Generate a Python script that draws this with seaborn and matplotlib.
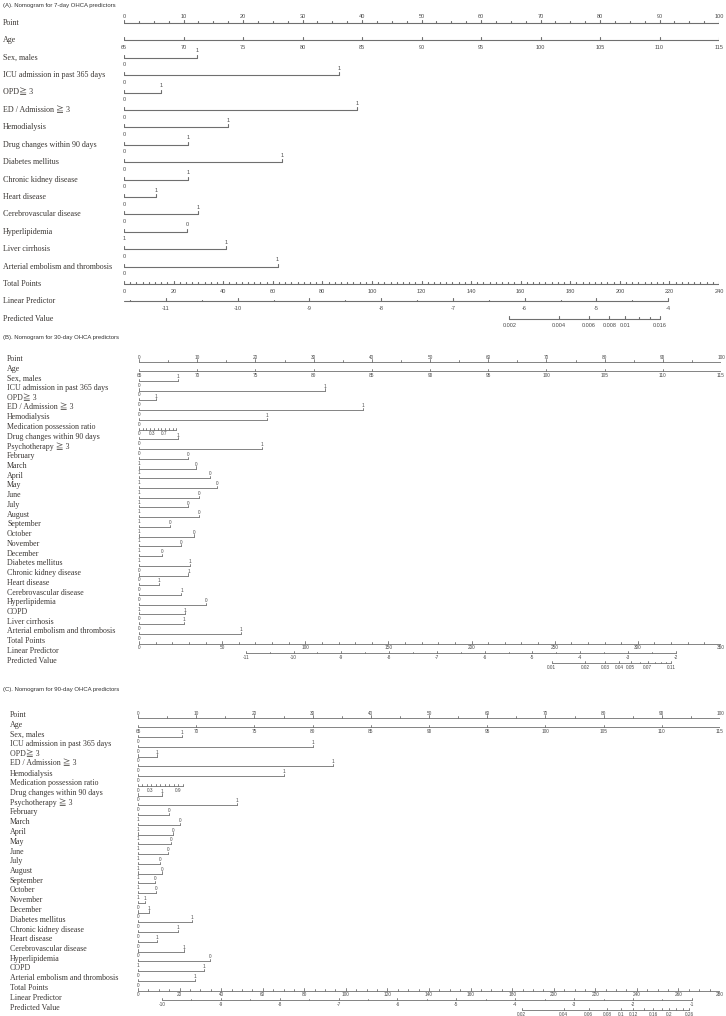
import numpy as np
import pandas as pd
import matplotlib
matplotlib.use("Agg")
import matplotlib.pyplot as plt
import matplotlib.transforms as mtransforms
import seaborn as sns

# ------------------------------------------------------------------
# values (points of the right-hand level)
# ------------------------------------------------------------------
age_ticks = [65, 70, 75, 80, 85, 90, 95, 100, 105, 110, 115]

# (A) 7-day
a_names = ["Sex, males", "ICU admission in past 365 days", "OPD≧ 3", "ED / Admission ≧ 3",
           "Hemodialysis", "Drug changes within 90 days", "Diabetes mellitus",
           "Chronic kidney disease", "Heart disease", "Cerebrovascular disease",
           "Hyperlipidemia", "Liver cirrhosis", "Arterial embolism and thrombosis"]
a_points = [12.3, 36.2, 6.2, 39.2, 17.5, 10.7, 26.5, 10.7, 5.4, 12.4, 10.6, 17.2, 25.8]
a_low = ["0", "0", "0", "0", "0", "0", "0", "0", "0", "0", "1", "0", "0"]
a_high = ["1", "1", "1", "1", "1", "1", "1", "1", "1", "1", "0", "1", "1"]
a_total_max = 240
a_total_labels = [0, 20, 40, 60, 80, 100, 120, 140, 160, 180, 200, 220, 240]
a_lp_ticks = [-11, -10, -9, -8, -7, -6, -5, -4]
a_lp_totals = [16.9, 219.5]          # total points under -11 and -4
a_lp_range = [-11.58, -4]
a_pv_ticks = [0.002, 0.004, 0.006, 0.008, 0.010, 0.012, 0.014, 0.016]
a_pv_labels = ["0.002", "0.004", "0.006", "0.008", "0.01", "", "", "0.016"]

months = ["February", "March", "April", "May", "June", "July", "August",
          "September", "October", "November", "December"]

# (B) 30-day
b_names = (["Sex, males", "ICU admission in past 365 days", "OPD≧ 3", "ED / Admission ≧ 3",
            "Hemodialysis", "Medication possession ratio", "Drug changes within 90 days",
            "Psychotherapy ≧ 3"] + months +
           ["Diabetes mellitus", "Chronic kidney disease", "Heart disease",
            "Cerebrovascular disease", "Hyperlipidemia", "COPD", "Liver cirrhosis",
            "Arterial embolism and thrombosis"])
b_points = ([6.7, 32.0, 2.9, 38.5, 22.0, None, 6.7, 21.1] +
            [8.5, 9.8, 12.2, 13.4, 10.3, 8.5, 10.3, 5.3, 9.5, 7.2, 3.9] +
            [8.7, 8.5, 3.5, 7.3, 11.5, 7.9, 7.7, 17.5])
b_low = ["0"] * 8 + ["1"] * 11 + ["0", "0", "0", "0", "1", "0", "0", "0"]
b_high = ["1"] * 8 + ["0"] * 11 + ["1", "1", "1", "1", "0", "1", "1", "1"]
b_mpr_labels = ["0", "0.3", "0.7"]
b_mpr_label_pts = [0, 2.2, 4.3]
b_mpr_end = 6.4
b_total_max = 350
b_total_labels = [0, 50, 100, 150, 200, 250, 300, 350]
b_lp_ticks = [-11, -10, -9, -8, -7, -6, -5, -4, -3, -2]
b_lp_totals = [64.2, 322.8]
b_lp_range = [-11, -2]
b_pv_ticks = [0.01, 0.02, 0.03, 0.04, 0.05, 0.06, 0.07, 0.08, 0.09, 0.10, 0.11]
b_pv_labels = ["0.01", "0.02", "0.03", "0.04", "0.05", "", "0.07", "", "", "", "0.11"]

# (C) 90-day
c_names = (["Sex, males", "ICU admission in past 365 days", "OPD≧ 3", "ED / Admission ≧ 3",
            "Hemodialysis", "Medication possession ratio", "Drug changes within 90 days",
            "Psychotherapy ≧ 3"] + months +
           ["Diabetes mellitus", "Chronic kidney disease", "Heart disease",
            "Cerebrovascular disease", "Hyperlipidemia", "COPD",
            "Arterial embolism and thrombosis"])
c_points = ([7.6, 30.1, 3.2, 33.5, 25.0, None, 4.1, 17.0] +
            [5.3, 7.2, 6.0, 5.7, 5.1, 3.8, 4.1, 2.9, 3.1, 1.2, 1.9] +
            [9.3, 6.8, 3.2, 7.9, 12.4, 11.3, 9.8])
c_low = ["0"] * 8 + ["1"] * 9 + ["0", "0"] + ["0", "0", "0", "0", "1", "0", "0"]
c_high = ["1"] * 8 + ["0"] * 9 + ["1", "1"] + ["1", "1", "1", "1", "0", "1", "1"]
c_mpr_labels = ["0", "0.3", "0.9"]
c_mpr_label_pts = [0, 2.1, 6.9]
c_mpr_end = 7.7
c_total_max = 280
c_total_labels = [0, 20, 40, 60, 80, 100, 120, 140, 160, 180, 200, 220, 240, 260, 280]
c_lp_ticks = [-10, -9, -8, -7, -6, -5, -4, -3, -2, -1]
c_lp_totals = [11.5, 266.5]
c_lp_range = [-10, -1]
c_pv_ticks = [0.02, 0.04, 0.06, 0.08, 0.10, 0.12, 0.14, 0.16, 0.18, 0.20, 0.22, 0.24, 0.26]
c_pv_labels = ["0.02", "0.04", "0.06", "0.08", "0.1", "0.12", "", "0.16", "", "0.2", "", "", "0.26"]

# ------------------------------------------------------------------
sns.set_theme(style="white")
plt.rcParams["font.family"] = ["Liberation Serif", "Noto Sans CJK TC", "DejaVu Sans"]

W, H = 726, 1016
fig = plt.figure(figsize=(W / 100, H / 100), dpi=100)

SERIF = ["Liberation Serif", "Noto Sans CJK TC", "DejaVu Sans"]
SANS = ["Liberation Sans", "DejaVu Sans"]
NARROW = ["Liberation Sans Narrow", "Liberation Sans", "DejaVu Sans"]
ROW_C = "#3a3633"
TICK_C = "#4a4a4a"
LINE_C = "#6f6f6f"

panels = [
    dict(title="(A). Nomogram for 7-day OHCA predictors", title_y=5, label_x=3,
         x0=124, x1=719, row0=23, row_px=17.4, top=10, bottom=334,
         line_dy=0, lab_dy=7, tick=3, minor=1.6, fs_row=5.8, fs_tick=4.0, tfont=SANS, lw=0.8,
         point_minor=2.5, total_minor=2.5,
         names=a_names, points=a_points, low=a_low, high=a_high, mpr=None,
         total_max=a_total_max, total_labels=a_total_labels,
         lp_ticks=a_lp_ticks, lp_totals=a_lp_totals, lp_range=a_lp_range,
         pv_ticks=a_pv_ticks, pv_labels=a_pv_labels),
    dict(title="(B). Nomogram for 30-day OHCA predictors", title_y=337, label_x=7,
         x0=139, x1=721, row0=359, row_px=9.73, top=347, bottom=672,
         line_dy=2.5, lab_dy=4.3, tick=2.2, minor=1.2, fs_row=5.7, fs_tick=3.4, tfont=NARROW, lw=0.6,
         point_minor=5, total_minor=10,
         names=b_names, points=b_points, low=b_low, high=b_high,
         mpr=(b_mpr_labels, b_mpr_label_pts, b_mpr_end),
         total_max=b_total_max, total_labels=b_total_labels,
         lp_ticks=b_lp_ticks, lp_totals=b_lp_totals, lp_range=b_lp_range,
         pv_ticks=b_pv_ticks, pv_labels=b_pv_labels),
    dict(title="(C). Nomogram for 90-day OHCA predictors", title_y=690, label_x=10,
         x0=138, x1=720, row0=715, row_px=9.75, top=703, bottom=1015,
         line_dy=2.5, lab_dy=4.3, tick=2.2, minor=1.2, fs_row=5.7, fs_tick=3.4, tfont=NARROW, lw=0.6,
         point_minor=5, total_minor=5,
         names=c_names, points=c_points, low=c_low, high=c_high,
         mpr=(c_mpr_labels, c_mpr_label_pts, c_mpr_end),
         total_max=c_total_max, total_labels=c_total_labels,
         lp_ticks=c_lp_ticks, lp_totals=c_lp_totals, lp_range=c_lp_range,
         pv_ticks=c_pv_ticks, pv_labels=c_pv_labels),
]


def draw_panel(p):
    ax = fig.add_axes([p["x0"] / W, 1 - p["bottom"] / H,
                       (p["x1"] - p["x0"]) / W, (p["bottom"] - p["top"]) / H])
    rp = p["row_px"]

    def d(px):
        return px / rp

    segs = []

    def seg(xa, ya, xb, yb):
        n = len(segs) // 2
        segs.append({"x": xa, "y": ya, "seg": n})
        segs.append({"x": xb, "y": yb, "seg": n})

    def tlab(x, y, s):
        ax.text(x, y, s, ha="center", va="center", fontsize=p["fs_tick"],
                family=p["tfont"], color=TICK_C)

    tmax = p["total_max"]

    def lp_to_pts(lp):
        (t1, t2), l1, l2 = p["lp_totals"], p["lp_ticks"][0], p["lp_ticks"][-1]
        return (t1 + (lp - l1) * (t2 - t1) / (l2 - l1)) / tmax * 100

    rows = ["Point", "Age"] + p["names"] + ["Total Points", "Linear Predictor", "Predicted Value"]
    trans = mtransforms.blended_transform_factory(fig.transFigure, ax.transData)
    for i, name in enumerate(rows):
        ax.text(p["label_x"] / W, i, name, transform=trans, ha="left", va="center",
                fontsize=p["fs_row"], family=SERIF, color=ROW_C)

    # Point scale
    ly = 0 + d(p["line_dy"])
    seg(0, ly, 100, ly)
    for v in np.arange(0, 100.01, p["point_minor"]):
        major = abs(v % 10) < 1e-6
        seg(v, ly, v, ly - d(p["tick"] if major else p["minor"]))
        if major:
            tlab(v, ly - d(p["lab_dy"]), f"{int(v)}")

    # Age
    ly = 1 + d(p["line_dy"])
    seg(0, ly, 100, ly)
    for a in age_ticks:
        x = (a - age_ticks[0]) * 100 / (age_ticks[-1] - age_ticks[0])
        seg(x, ly, x, ly - d(p["tick"]))
        tlab(x, ly + d(p["lab_dy"]), str(a))

    # predictors
    for k, name in enumerate(p["names"]):
        ly = 2 + k + d(p["line_dy"])
        if name == "Medication possession ratio":
            labs, lpts, end = p["mpr"]
            seg(0, ly, end, ly)
            for x in np.linspace(0, end, 11):
                seg(x, ly, x, ly - d(p["minor"] * 1.3))
            for s, x in zip(labs, lpts):
                tlab(x, ly + d(p["lab_dy"]), s)
            continue
        pt = p["points"][k]
        seg(0, ly, pt, ly)
        seg(0, ly, 0, ly - d(p["tick"]))
        seg(pt, ly, pt, ly - d(p["tick"]))
        tlab(0, ly + d(p["lab_dy"]), p["low"][k])
        tlab(pt, ly - d(p["lab_dy"]), p["high"][k])

    n = len(p["names"])
    # Total points
    ly = 2 + n + d(p["line_dy"])
    seg(0, ly, 100, ly)
    for t in np.arange(0, tmax + 0.01, p["total_minor"]):
        major = t in p["total_labels"]
        x = t / tmax * 100
        seg(x, ly, x, ly - d(p["tick"] if major else p["minor"]))
    for t in p["total_labels"]:
        tlab(t / tmax * 100, ly + d(p["lab_dy"]), str(t))

    # Linear predictor
    ly = 3 + n + d(p["line_dy"])
    lo, hi = p["lp_range"]
    seg(lp_to_pts(lo), ly, lp_to_pts(hi), ly)
    for v in np.arange(np.ceil(lo * 2) / 2, hi + 0.01, 0.5):
        major = abs(v - round(v)) < 1e-6
        x = lp_to_pts(v)
        seg(x, ly, x, ly - d(p["tick"] if major else p["minor"]))
        if major:
            tlab(x, ly + d(p["lab_dy"]), f"{int(round(v))}")

    # Predicted value
    ly = 4 + n + d(p["line_dy"])
    pv = np.array(p["pv_ticks"])
    xs = lp_to_pts(np.log(pv / (1 - pv)))
    seg(xs[0], ly, xs[-1], ly)
    for x, s in zip(xs, p["pv_labels"]):
        seg(x, ly, x, ly - d(p["tick"] if s else p["minor"] * 1.3))
        if s:
            tlab(x, ly + d(p["lab_dy"]), s)

    df = pd.DataFrame(segs)
    sns.lineplot(data=df, x="x", y="y", units="seg", estimator=None, sort=False,
                 color=LINE_C, linewidth=p["lw"], ax=ax, legend=False)

    top_row = (p["top"] - p["row0"]) / rp
    bot_row = (p["bottom"] - p["row0"]) / rp
    ax.set_xlim(0, 100)
    ax.set_ylim(bot_row, top_row)
    ax.axis("off")

    fig.text(3 / W, 1 - p["title_y"] / H, p["title"], ha="left", va="center",
             fontsize=4.3, family=SANS, color="#333333")


for p in panels:
    draw_panel(p)

fig.savefig("out.png", dpi=100, facecolor="white")
